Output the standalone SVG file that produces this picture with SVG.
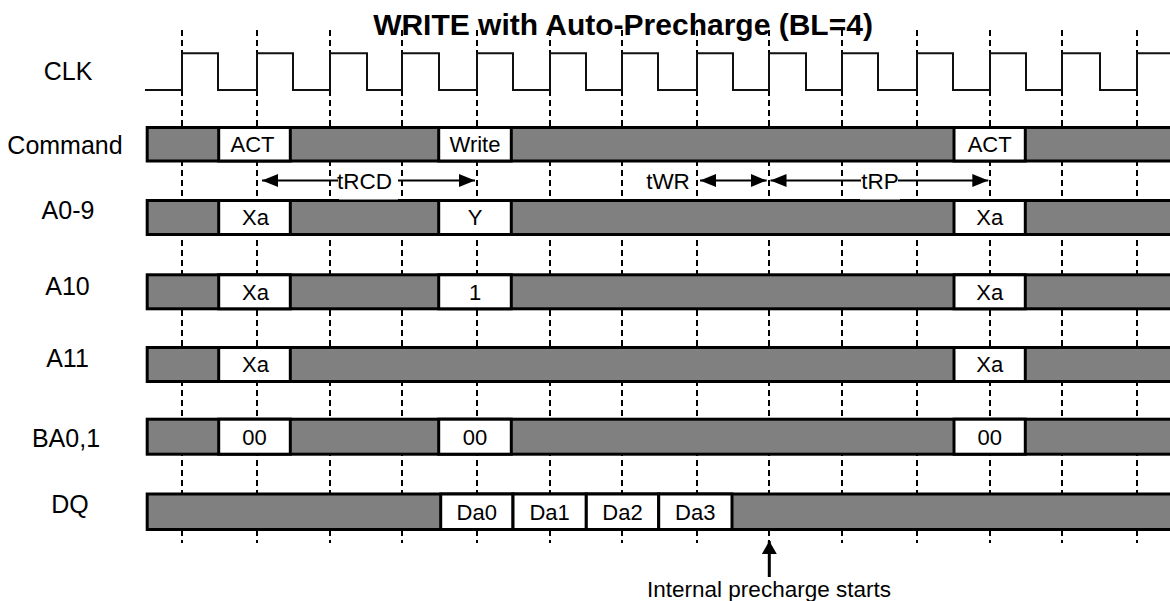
<svg xmlns="http://www.w3.org/2000/svg" width="1170" height="601" viewBox="0 0 1170 601">
<style>
.bg{fill:#ffffff}
.grid{stroke:#000;stroke-width:2;stroke-dasharray:6,4;fill:none}
.clk{stroke:#111;stroke-width:2;fill:none}
.bus{fill:#808080;stroke:#000;stroke-width:3}
.val{fill:#ffffff;stroke:#000;stroke-width:3}
.lbl{font-family:"Liberation Sans",Arial,sans-serif;font-size:25px;fill:#000;text-anchor:middle}
.v{font-family:"Liberation Sans",Arial,sans-serif;font-size:22px;fill:#000;text-anchor:middle}
.t{font-family:"Liberation Sans",Arial,sans-serif;font-size:22.5px;fill:#000;text-anchor:middle}
.title{font-family:"Liberation Sans",Arial,sans-serif;font-size:30px;font-weight:bold;fill:#000;text-anchor:middle}
.arr{stroke:#000;stroke-width:2.2;fill:none}
.arr3{stroke:#000;stroke-width:3;fill:none}
.mask{fill:#ffffff}
</style>
<defs>
<marker id="ah" markerUnits="userSpaceOnUse" markerWidth="17" markerHeight="13" refX="16" refY="6.5" orient="auto-start-reverse">
<path d="M0,0 L16,6.5 L0,13 z" fill="#000"/>
</marker>
<marker id="ahv" markerUnits="userSpaceOnUse" markerWidth="14" markerHeight="15" refX="13" refY="7.5" orient="auto">
<path d="M0,0 L13,7.5 L0,15 z" fill="#000"/>
</marker>
</defs>
<rect class="bg" x="0" y="0" width="1170" height="601"/>
<g id="grid">
<path class="grid" d="M182,30V543M257,30V543M330,30V543M402,30V543M477,30V543M550,30V543M622,30V543M697,30V543M769,30V543M842,30V543M917,30V543M990,30V543M1062,30V543M1137,30V543"/>
</g>
<text id="title" class="title" x="623" y="35">WRITE with Auto-Precharge (BL=4)</text>
<g id="clk">
<text class="lbl" x="68" y="80">CLK</text>
<path class="clk" d="M145,90H182V53.3H218V90H257V53.3H293V90H330V53.3H367V90H402V53.3H439V90H477V53.3H513V90H550V53.3H586V90H622V53.3H658V90H697V53.3H733V90H769V53.3H806V90H842V53.3H878V90H917V53.3H953V90H990V53.3H1026V90H1062V53.3H1100V90H1137V53.3H1172"/>
</g>
<g id="command">
<text class="lbl" x="65" y="154">Command</text>
<rect class="bus" x="147.2" y="127.5" width="1030" height="33.5"/>
<rect class="val" x="218.7" y="127.5" width="71.6" height="33.5"/>
<rect class="val" x="438.7" y="127.5" width="72.6" height="33.5"/>
<rect class="val" x="954" y="127.5" width="71.3" height="33.5"/>
<text class="v" x="252.5" y="152">ACT</text>
<text class="v" x="475" y="152">Write</text>
<text class="v" x="989.7" y="152">ACT</text>
</g>
<g id="a0-9">
<text class="lbl" x="68" y="219">A0-9</text>
<rect class="bus" x="147.2" y="200.5" width="1030" height="34"/>
<rect class="val" x="218.7" y="200.5" width="71.6" height="34"/>
<rect class="val" x="438.7" y="200.5" width="72.6" height="34"/>
<rect class="val" x="954" y="200.5" width="71.3" height="34"/>
<text class="v" x="255.5" y="225.3">Xa</text>
<text class="v" x="475" y="225.3">Y</text>
<text class="v" x="989.7" y="225.3">Xa</text>
</g>
<g id="a10">
<text class="lbl" x="67.5" y="295">A10</text>
<rect class="bus" x="147.2" y="274.8" width="1030" height="34"/>
<rect class="val" x="218.7" y="274.8" width="71.6" height="34"/>
<rect class="val" x="438.7" y="274.8" width="72.6" height="34"/>
<rect class="val" x="954" y="274.8" width="71.3" height="34"/>
<text class="v" x="255.5" y="299.5">Xa</text>
<text class="v" x="475" y="299.5">1</text>
<text class="v" x="989.7" y="299.5">Xa</text>
</g>
<g id="a11">
<text class="lbl" x="67.5" y="366.7">A11</text>
<rect class="bus" x="147.2" y="347.5" width="1030" height="34"/>
<rect class="val" x="218.7" y="347.5" width="71.6" height="34"/>
<rect class="val" x="954" y="347.5" width="71.3" height="34"/>
<text class="v" x="255.5" y="372.2">Xa</text>
<text class="v" x="989.7" y="372.2">Xa</text>
</g>
<g id="ba0-1">
<text class="lbl" x="66" y="446.7">BA0,1</text>
<rect class="bus" x="147.2" y="419.2" width="1030" height="35"/>
<rect class="val" x="218.7" y="419.2" width="71.6" height="35"/>
<rect class="val" x="438.7" y="419.2" width="72.6" height="35"/>
<rect class="val" x="954" y="419.2" width="71.3" height="35"/>
<text class="v" x="254.5" y="444.5">00</text>
<text class="v" x="475" y="444.5">00</text>
<text class="v" x="989.7" y="444.5">00</text>
</g>
<g id="dq">
<text class="lbl" x="70" y="513">DQ</text>
<rect class="bus" x="147.2" y="494" width="1030" height="35.5"/>
<rect class="val" x="440.7" y="494" width="72.3" height="35.5"/>
<rect class="val" x="513" y="494" width="73.3" height="35.5"/>
<rect class="val" x="586.3" y="494" width="72.4" height="35.5"/>
<rect class="val" x="658.7" y="494" width="73.3" height="35.5"/>
<text class="v" x="476.8" y="520">Da0</text>
<text class="v" x="549.6" y="520">Da1</text>
<text class="v" x="622.5" y="520">Da2</text>
<text class="v" x="695.3" y="520">Da3</text>
</g>
<g id="connectors">
<rect class="mask" x="339" y="167" width="59" height="32.5"/>
<rect class="mask" x="860" y="167" width="40" height="32.5"/>
<line class="arr" x1="338" y1="180.5" x2="262" y2="180.5" marker-end="url(#ah)"/>
<line class="arr" x1="398" y1="180.5" x2="475" y2="180.5" marker-end="url(#ah)"/>
<text class="t" x="364.5" y="188.5">tRCD</text>
<text class="t" x="668" y="188.5">tWR</text>
<line class="arr" x1="700" y1="180.5" x2="766.7" y2="180.5" marker-start="url(#ah)" marker-end="url(#ah)"/>
<line class="arr" x1="861" y1="180.5" x2="770.5" y2="180.5" marker-end="url(#ah)"/>
<line class="arr" x1="898" y1="180.5" x2="988.3" y2="180.5" marker-end="url(#ah)"/>
<text class="t" x="880" y="188.5">tRP</text>
<line class="arr3" x1="769.3" y1="577" x2="769.3" y2="541" marker-end="url(#ahv)"/>
<text class="t" x="769" y="596.7">Internal precharge starts</text>
</g>
</svg>
